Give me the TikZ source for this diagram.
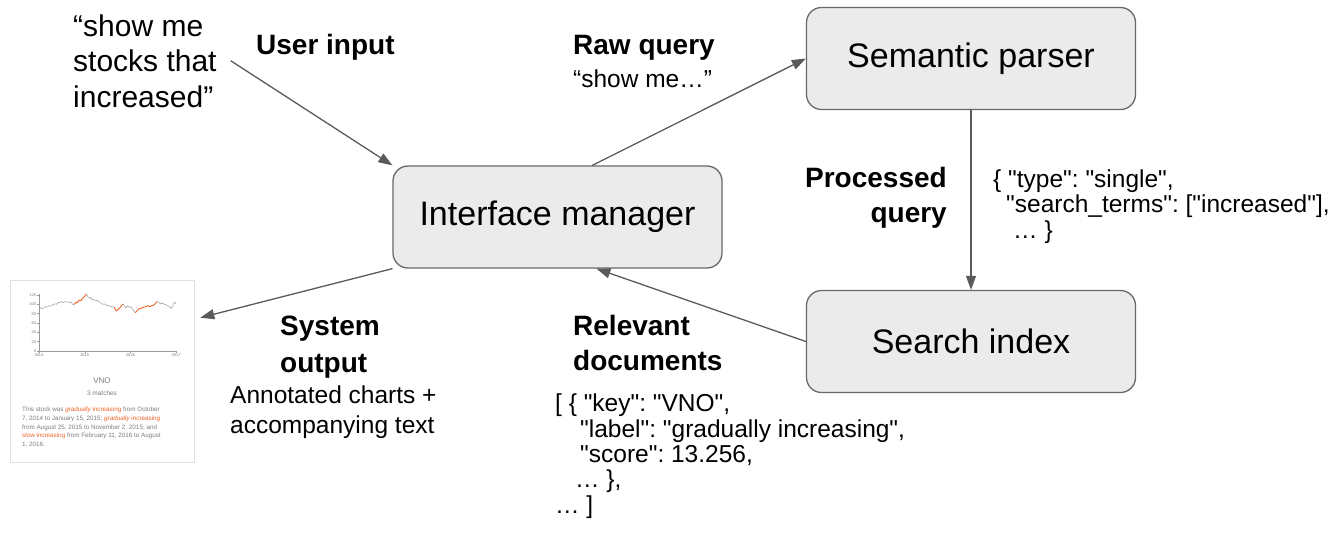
\documentclass[tikz,border=0pt]{standalone}
\usepackage{fontspec}
\setmainfont{Liberation Sans}[Ligatures=TeXOff]
\usetikzlibrary{arrows.meta,shadows}
\definecolor{boxfill}{RGB}{235,235,235}
\definecolor{boxline}{RGB}{105,105,105}
\definecolor{arrowgray}{RGB}{90,90,90}
\definecolor{chartorange}{RGB}{240,100,40}
\definecolor{charttext}{RGB}{125,125,125}
\frenchspacing

\begin{document}
\begin{tikzpicture}[x=1pt,y=-1pt,
    box/.style={draw=boxline,fill=boxfill,line width=1.3pt,rounded corners=15pt,
        minimum width=329pt,minimum height=102pt,font=\fontsize{34}{40}\selectfont},
    head/.style={font=\fontsize{28}{35}\selectfont\bfseries,inner sep=0pt,align=left},
    txt/.style={font=\fontsize{24.5}{25.3}\selectfont,inner sep=0pt,align=left},
    flow/.style={draw=arrowgray,line width=1.3pt,-{Triangle[length=14pt,width=10pt]}},
    axis/.style={draw=black!40,line width=0.4pt},
    tick/.style={font=\fontsize{4}{5}\selectfont,text=charttext,inner sep=0.5pt},
    series/.style={line width=0.5pt,draw=black!40},
    hilite/.style={line width=0.9pt,draw=chartorange}]
    \useasboundingbox (0,0) rectangle (1343,535);

    % boxes
    \node[box] (im) at (557.5,217) {Interface manager};
    \node[box] (sp) at (971,58.5) {Semantic parser};
    \node[box] (si) at (971,341.5) {Search index};

    % user input (multi-line nodes sit on the baseline of their last line)
    \node[txt,font=\fontsize{30}{35.5}\selectfont,anchor=base west] (quote) at (73,107)
        {“show me\\stocks that\\increased”};
    \node[head,anchor=base west] (userin) at (256,55) {User input};

    % raw query
    \node[head,anchor=base west] (rawq) at (573,55) {Raw query};
    \node[txt,anchor=base west] (rawtxt) at (573,88) {“show me…”};

    % processed query
    \node[head,align=right,anchor=base east] (procq) at (947,222) {Processed\\query};
    \node[txt,anchor=base west] (proctxt) at (993,238)
        {\{ "type": "single",\\
         \hspace*{13pt}"search\_terms": ["increased"],\\
         \hspace*{20pt}… \}};

    % relevant documents
    \node[head,anchor=base west] (relq) at (573,370) {Relevant\\documents};
    \node[txt,anchor=base west] (reltxt) at (555,513)
        {[ \{ "key": "VNO",\\
         \hspace*{25pt}"label": "gradually increasing",\\
         \hspace*{25pt}"score": 13.256,\\
         \hspace*{20pt}… \},\\
         … ]};

    % system output
    \node[head,font=\fontsize{28}{37}\selectfont\bfseries,anchor=base west] (sysq) at (280,372)
        {System\\output};
    \node[txt,font=\fontsize{24.5}{30}\selectfont,anchor=base west] (systxt) at (230,433)
        {Annotated charts +\\accompanying text};

    % chart card
    \node[draw=black!12,fill=white,line width=0.6pt,minimum width=184pt,minimum height=182pt,
        inner sep=0pt,drop shadow={shadow xshift=0.6pt,shadow yshift=-1.2pt,opacity=0.25}]
        (chart) at (102,371) {};
    \begin{scope}[shift={(39,351)},x=45.7pt,y=0.4667pt]
        \draw[axis] (0,122) -- (0,0) -- (3,0);
        \foreach \v in {0,20,...,120} {
            \draw[axis] (0,\v) -- (-0.04,\v);
            \node[tick,anchor=east] at (-0.05,\v) {\v};
        }
        \foreach \t/\yr in {0/2014,1/2015,2/2016,3/2017} {
            \draw[axis] (\t,0) -- (\t,-4);
            \node[tick,anchor=north] at (\t,-5) {\yr};
        }
        \draw[series] plot coordinates {(0,90) (0.03,93) (0.06,91) (0.1,92) (0.14,95) (0.18,94)
            (0.22,97) (0.26,96) (0.3,99) (0.34,101) (0.38,100) (0.42,104) (0.46,103) (0.5,106)
            (0.54,104) (0.58,106) (0.62,105) (0.66,104) (0.7,105) (0.73,101) (0.75,99) (0.77,100)};
        \draw[hilite] plot coordinates {(0.77,100) (0.8,104) (0.83,103) (0.86,107) (0.89,109)
            (0.92,108) (0.95,113) (0.98,115) (1.01,119) (1.04,122)};
        \draw[series] plot coordinates {(1.04,122) (1.07,116) (1.1,113) (1.13,115) (1.16,110)
            (1.2,111) (1.24,107) (1.28,109) (1.32,104) (1.36,103) (1.4,100) (1.44,101) (1.48,98)
            (1.52,97) (1.56,96) (1.6,95) (1.65,94)};
        \draw[hilite] plot coordinates {(1.65,94) (1.67,88) (1.7,86) (1.73,89) (1.76,92)
            (1.79,95) (1.82,99) (1.84,101)};
        \draw[series] plot coordinates {(1.84,101) (1.87,96) (1.9,92) (1.93,97) (1.96,94)
            (2.0,95) (2.03,92) (2.06,88) (2.09,84) (2.11,82)};
        \draw[hilite] plot coordinates {(2.11,82) (2.14,86) (2.18,90) (2.22,91) (2.26,93)
            (2.3,94) (2.34,95) (2.38,97) (2.42,95) (2.46,97) (2.5,98) (2.54,101) (2.58,106)};
        \draw[series] plot coordinates {(2.58,106) (2.62,104) (2.66,101) (2.7,103) (2.74,100)
            (2.78,99) (2.82,97) (2.86,95) (2.89,91) (2.92,96) (2.95,102) (2.98,104) (3.0,101)};
    \end{scope}
    \node[font=\fontsize{8}{9}\selectfont,text=charttext,inner sep=0pt,anchor=base] (vno)
        at (102,383) {VNO};
    \node[font=\fontsize{6.5}{8}\selectfont,text=charttext,inner sep=0pt,anchor=base] (nmatch)
        at (102,395.5) {3 matches};
    \node[font=\fontsize{6.3}{8.7}\selectfont,text=charttext,inner sep=0pt,align=left,
        anchor=base west] (desc) at (22,446.5)
        {This stock was \textcolor{chartorange}{\itshape gradually} \textcolor{chartorange}{increasing} from October\\
         7, 2014 to January 15, 2015; \textcolor{chartorange}{\itshape gradually} \textcolor{chartorange}{increasing}\\
         from August 25, 2015 to November 2, 2015; and\\
         \textcolor{chartorange}{slow increasing} from February 11, 2016 to August\\
         1, 2016.};

    % connectors
    \draw[flow] ([xshift=14pt]quote.east) -- (im.north west);
    \draw[flow] (im.56) -- (sp.west);
    \draw[flow] (sp.south) -- (si.north);
    \draw[flow] (si.west) -- (im.-53);
    \draw[flow] (im.south west) -- ([xshift=6pt]chart.30);
\end{tikzpicture}
\end{document}
